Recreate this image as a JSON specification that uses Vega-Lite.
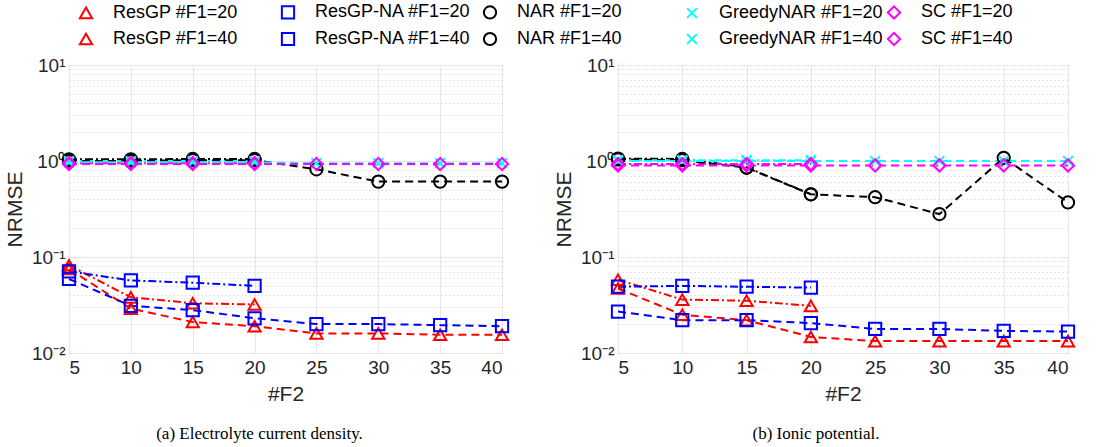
{
  "$schema": "https://vega.github.io/schema/vega-lite/v6.json",
  "background": "white",
  "padding": {"left": 4, "top": 3, "right": 2, "bottom": 2},
  "config": {
    "font": "Liberation Sans",
    "view": {"stroke": "#808080", "strokeWidth": 1},
    "axis": {"labelFont": "Liberation Sans", "titleFont": "Liberation Sans", "labelColor": "#262626", "titleColor": "#262626", "titleFontWeight": "normal", "domain": false, "ticks": false}
  },
  "datasets": {
    "rows": [
      {"p": "a", "s": "ResGP #F1=20", "x": 5, "y": 0.082},
      {"p": "a", "s": "ResGP #F1=20", "x": 10, "y": 0.038},
      {"p": "a", "s": "ResGP #F1=20", "x": 15, "y": 0.033},
      {"p": "a", "s": "ResGP #F1=20", "x": 20, "y": 0.032},
      {"p": "a", "s": "ResGP #F1=40", "x": 5, "y": 0.075},
      {"p": "a", "s": "ResGP #F1=40", "x": 10, "y": 0.029},
      {"p": "a", "s": "ResGP #F1=40", "x": 15, "y": 0.021},
      {"p": "a", "s": "ResGP #F1=40", "x": 20, "y": 0.019},
      {"p": "a", "s": "ResGP #F1=40", "x": 25, "y": 0.016},
      {"p": "a", "s": "ResGP #F1=40", "x": 30, "y": 0.016},
      {"p": "a", "s": "ResGP #F1=40", "x": 35, "y": 0.0155},
      {"p": "a", "s": "ResGP #F1=40", "x": 40, "y": 0.0155},
      {"p": "a", "s": "ResGP-NA #F1=20", "x": 5, "y": 0.071},
      {"p": "a", "s": "ResGP-NA #F1=20", "x": 10, "y": 0.057},
      {"p": "a", "s": "ResGP-NA #F1=20", "x": 15, "y": 0.054},
      {"p": "a", "s": "ResGP-NA #F1=20", "x": 20, "y": 0.05},
      {"p": "a", "s": "ResGP-NA #F1=40", "x": 5, "y": 0.059},
      {"p": "a", "s": "ResGP-NA #F1=40", "x": 10, "y": 0.031},
      {"p": "a", "s": "ResGP-NA #F1=40", "x": 15, "y": 0.028},
      {"p": "a", "s": "ResGP-NA #F1=40", "x": 20, "y": 0.023},
      {"p": "a", "s": "ResGP-NA #F1=40", "x": 25, "y": 0.02},
      {"p": "a", "s": "ResGP-NA #F1=40", "x": 30, "y": 0.02},
      {"p": "a", "s": "ResGP-NA #F1=40", "x": 35, "y": 0.0195},
      {"p": "a", "s": "ResGP-NA #F1=40", "x": 40, "y": 0.019},
      {"p": "a", "s": "NAR #F1=20", "x": 5, "y": 1.04},
      {"p": "a", "s": "NAR #F1=20", "x": 10, "y": 1.04},
      {"p": "a", "s": "NAR #F1=20", "x": 15, "y": 1.05},
      {"p": "a", "s": "NAR #F1=20", "x": 20, "y": 1.05},
      {"p": "a", "s": "NAR #F1=40", "x": 5, "y": 1.0},
      {"p": "a", "s": "NAR #F1=40", "x": 10, "y": 1.0},
      {"p": "a", "s": "NAR #F1=40", "x": 15, "y": 1.02},
      {"p": "a", "s": "NAR #F1=40", "x": 20, "y": 1.02},
      {"p": "a", "s": "NAR #F1=40", "x": 25, "y": 0.82},
      {"p": "a", "s": "NAR #F1=40", "x": 30, "y": 0.61},
      {"p": "a", "s": "NAR #F1=40", "x": 35, "y": 0.61},
      {"p": "a", "s": "NAR #F1=40", "x": 40, "y": 0.61},
      {"p": "a", "s": "GreedyNAR #F1=20", "x": 5, "y": 1.0},
      {"p": "a", "s": "GreedyNAR #F1=20", "x": 10, "y": 1.0},
      {"p": "a", "s": "GreedyNAR #F1=20", "x": 15, "y": 1.0},
      {"p": "a", "s": "GreedyNAR #F1=20", "x": 20, "y": 1.0},
      {"p": "a", "s": "GreedyNAR #F1=40", "x": 5, "y": 0.97},
      {"p": "a", "s": "GreedyNAR #F1=40", "x": 10, "y": 0.97},
      {"p": "a", "s": "GreedyNAR #F1=40", "x": 15, "y": 0.97},
      {"p": "a", "s": "GreedyNAR #F1=40", "x": 20, "y": 0.97},
      {"p": "a", "s": "GreedyNAR #F1=40", "x": 25, "y": 0.95},
      {"p": "a", "s": "GreedyNAR #F1=40", "x": 30, "y": 0.95},
      {"p": "a", "s": "GreedyNAR #F1=40", "x": 35, "y": 0.95},
      {"p": "a", "s": "GreedyNAR #F1=40", "x": 40, "y": 0.95},
      {"p": "a", "s": "SC #F1=20", "x": 5, "y": 0.95},
      {"p": "a", "s": "SC #F1=20", "x": 10, "y": 0.95},
      {"p": "a", "s": "SC #F1=20", "x": 15, "y": 0.95},
      {"p": "a", "s": "SC #F1=20", "x": 20, "y": 0.95},
      {"p": "a", "s": "SC #F1=40", "x": 5, "y": 0.93},
      {"p": "a", "s": "SC #F1=40", "x": 10, "y": 0.93},
      {"p": "a", "s": "SC #F1=40", "x": 15, "y": 0.93},
      {"p": "a", "s": "SC #F1=40", "x": 20, "y": 0.93},
      {"p": "a", "s": "SC #F1=40", "x": 25, "y": 0.93},
      {"p": "a", "s": "SC #F1=40", "x": 30, "y": 0.93},
      {"p": "a", "s": "SC #F1=40", "x": 35, "y": 0.93},
      {"p": "a", "s": "SC #F1=40", "x": 40, "y": 0.93},

      {"p": "b", "s": "ResGP #F1=20", "x": 5, "y": 0.058},
      {"p": "b", "s": "ResGP #F1=20", "x": 10, "y": 0.036},
      {"p": "b", "s": "ResGP #F1=20", "x": 15, "y": 0.035},
      {"p": "b", "s": "ResGP #F1=20", "x": 20, "y": 0.031},
      {"p": "b", "s": "ResGP #F1=40", "x": 5, "y": 0.047},
      {"p": "b", "s": "ResGP #F1=40", "x": 10, "y": 0.025},
      {"p": "b", "s": "ResGP #F1=40", "x": 15, "y": 0.022},
      {"p": "b", "s": "ResGP #F1=40", "x": 20, "y": 0.0147},
      {"p": "b", "s": "ResGP #F1=40", "x": 25, "y": 0.0133},
      {"p": "b", "s": "ResGP #F1=40", "x": 30, "y": 0.0133},
      {"p": "b", "s": "ResGP #F1=40", "x": 35, "y": 0.0133},
      {"p": "b", "s": "ResGP #F1=40", "x": 40, "y": 0.0133},
      {"p": "b", "s": "ResGP-NA #F1=20", "x": 5, "y": 0.049},
      {"p": "b", "s": "ResGP-NA #F1=20", "x": 10, "y": 0.05},
      {"p": "b", "s": "ResGP-NA #F1=20", "x": 15, "y": 0.049},
      {"p": "b", "s": "ResGP-NA #F1=20", "x": 20, "y": 0.048},
      {"p": "b", "s": "ResGP-NA #F1=40", "x": 5, "y": 0.027},
      {"p": "b", "s": "ResGP-NA #F1=40", "x": 10, "y": 0.022},
      {"p": "b", "s": "ResGP-NA #F1=40", "x": 15, "y": 0.022},
      {"p": "b", "s": "ResGP-NA #F1=40", "x": 20, "y": 0.0205},
      {"p": "b", "s": "ResGP-NA #F1=40", "x": 25, "y": 0.0178},
      {"p": "b", "s": "ResGP-NA #F1=40", "x": 30, "y": 0.0178},
      {"p": "b", "s": "ResGP-NA #F1=40", "x": 35, "y": 0.017},
      {"p": "b", "s": "ResGP-NA #F1=40", "x": 40, "y": 0.0167},
      {"p": "b", "s": "NAR #F1=20", "x": 5, "y": 1.06},
      {"p": "b", "s": "NAR #F1=20", "x": 10, "y": 1.05},
      {"p": "b", "s": "NAR #F1=20", "x": 15, "y": 0.86},
      {"p": "b", "s": "NAR #F1=20", "x": 20, "y": 0.45},
      {"p": "b", "s": "NAR #F1=40", "x": 5, "y": 1.04},
      {"p": "b", "s": "NAR #F1=40", "x": 10, "y": 1.02},
      {"p": "b", "s": "NAR #F1=40", "x": 15, "y": 0.85},
      {"p": "b", "s": "NAR #F1=40", "x": 20, "y": 0.45},
      {"p": "b", "s": "NAR #F1=40", "x": 25, "y": 0.42},
      {"p": "b", "s": "NAR #F1=40", "x": 30, "y": 0.28},
      {"p": "b", "s": "NAR #F1=40", "x": 35, "y": 1.08},
      {"p": "b", "s": "NAR #F1=40", "x": 40, "y": 0.37},
      {"p": "b", "s": "GreedyNAR #F1=20", "x": 5, "y": 1.02},
      {"p": "b", "s": "GreedyNAR #F1=20", "x": 10, "y": 1.02},
      {"p": "b", "s": "GreedyNAR #F1=20", "x": 15, "y": 1.02},
      {"p": "b", "s": "GreedyNAR #F1=20", "x": 20, "y": 1.02},
      {"p": "b", "s": "GreedyNAR #F1=40", "x": 5, "y": 1.0},
      {"p": "b", "s": "GreedyNAR #F1=40", "x": 10, "y": 1.0},
      {"p": "b", "s": "GreedyNAR #F1=40", "x": 15, "y": 1.0},
      {"p": "b", "s": "GreedyNAR #F1=40", "x": 20, "y": 1.0},
      {"p": "b", "s": "GreedyNAR #F1=40", "x": 25, "y": 1.0},
      {"p": "b", "s": "GreedyNAR #F1=40", "x": 30, "y": 1.0},
      {"p": "b", "s": "GreedyNAR #F1=40", "x": 35, "y": 1.0},
      {"p": "b", "s": "GreedyNAR #F1=40", "x": 40, "y": 1.0},
      {"p": "b", "s": "SC #F1=20", "x": 5, "y": 0.93},
      {"p": "b", "s": "SC #F1=20", "x": 10, "y": 0.93},
      {"p": "b", "s": "SC #F1=20", "x": 15, "y": 0.93},
      {"p": "b", "s": "SC #F1=20", "x": 20, "y": 0.93},
      {"p": "b", "s": "SC #F1=40", "x": 5, "y": 0.9},
      {"p": "b", "s": "SC #F1=40", "x": 10, "y": 0.9},
      {"p": "b", "s": "SC #F1=40", "x": 15, "y": 0.9},
      {"p": "b", "s": "SC #F1=40", "x": 20, "y": 0.9},
      {"p": "b", "s": "SC #F1=40", "x": 25, "y": 0.9},
      {"p": "b", "s": "SC #F1=40", "x": 30, "y": 0.9},
      {"p": "b", "s": "SC #F1=40", "x": 35, "y": 0.9},
      {"p": "b", "s": "SC #F1=40", "x": 40, "y": 0.9}
    ]
  },
  "resolve": {"legend": {"color": "shared", "shape": "shared"}},
  "spacing": 40,
  "hconcat": [
    {
      "width": 433,
      "height": 288,
      "data": {"name": "rows"},
      "transform": [{"filter": "datum.p == 'a'"}],
      "title": {"text": "(a) Electrolyte current density.", "orient": "bottom", "font": "Liberation Serif", "fontSize": 17, "fontWeight": "normal", "color": "#000000", "offset": 22, "anchor": "middle", "dx": -26},
      "encoding": {
        "x": {"field": "x", "type": "quantitative", "scale": {"domain": [5, 40], "nice": false, "zero": false},
              "axis": {"values": [5, 10, 15, 20, 25, 30, 35, 40], "title": "#F2", "titleFontSize": 21, "labelFontSize": 19, "labelPadding": 5, "titlePadding": 6, "gridColor": "#e6e6e6", "gridWidth": 1}},
        "y": {"field": "y", "type": "quantitative", "scale": {"type": "log", "domain": [0.01, 10], "nice": false},
              "axis": {"values": [0.01,0.02,0.03,0.04,0.05,0.06,0.07,0.08,0.09,0.1,0.2,0.3,0.4,0.5,0.6,0.7,0.8,0.9,1,2,3,4,5,6,7,8,9,10],
                       "labelExpr": "abs(datum.value-10)<1e-9 ? '10¹' : abs(datum.value-1)<1e-9 ? '10⁰' : abs(datum.value-0.1)<1e-9 ? '10⁻¹' : abs(datum.value-0.01)<1e-9 ? '10⁻²' : ''",
                       "title": "NRMSE", "titleFontSize": 21, "labelFontSize": 19, "labelPadding": 4, "titlePadding": 6,
                       "gridDash": {"condition": {"test": "abs(log(datum.value)/LN10 - round(log(datum.value)/LN10)) < 1e-6", "value": []}, "value": [1, 3]},
                       "gridColor": {"condition": {"test": "abs(log(datum.value)/LN10 - round(log(datum.value)/LN10)) < 1e-6", "value": "#e6e6e6"}, "value": "#c8c8c8"}}},
        "color": {"field": "s", "type": "nominal", "title": null,
                  "scale": {"domain": ["ResGP #F1=20", "ResGP-NA #F1=20", "NAR #F1=20", "GreedyNAR #F1=20", "SC #F1=20", "ResGP #F1=40", "ResGP-NA #F1=40", "NAR #F1=40", "GreedyNAR #F1=40", "SC #F1=40"],
                            "range": ["#ff0000", "#0000ff", "#000000", "#00ffff", "#ff00ff", "#ff0000", "#0000ff", "#000000", "#00ffff", "#ff00ff"]},
                  "legend": {"orient": "none", "legendX": 8, "legendY": -62, "columns": 5, "direction": "horizontal", "gridAlign": "all", "labelFontSize": 18, "labelColor": "#000000", "labelFont": "Liberation Sans", "symbolSize": 150, "symbolStrokeWidth": 2, "rowPadding": 5, "columnPadding": 0, "labelOffset": 18, "symbolOffset": 0, "labelLimit": 300}}
      },
      "layer": [
        {"transform": [{"filter": "indexof(datum.s, '=20') >= 0"}],
         "mark": {"type": "line", "strokeWidth": 2, "strokeDash": [8, 3, 2, 3]}},
        {"transform": [{"filter": "indexof(datum.s, '=40') >= 0"}],
         "mark": {"type": "line", "strokeWidth": 2, "strokeDash": [8, 5]}},
        {"mark": {"type": "point", "filled": false, "strokeWidth": 2, "size": 150, "opacity": 1},
         "encoding": {"shape": {"field": "s", "type": "nominal", "title": null,
                                "scale": {"domain": ["ResGP #F1=20", "ResGP-NA #F1=20", "NAR #F1=20", "GreedyNAR #F1=20", "SC #F1=20", "ResGP #F1=40", "ResGP-NA #F1=40", "NAR #F1=40", "GreedyNAR #F1=40", "SC #F1=40"],
                                          "range": ["triangle-up", "square", "circle", "M-0.8,-0.8L0.8,0.8M-0.8,0.8L0.8,-0.8", "diamond", "triangle-up", "square", "circle", "M-0.8,-0.8L0.8,0.8M-0.8,0.8L0.8,-0.8", "diamond"]}}}}
      ]
    },
    {
      "width": 450,
      "height": 288,
      "data": {"name": "rows"},
      "transform": [{"filter": "datum.p == 'b'"}],
      "title": {"text": "(b) Ionic potential.", "orient": "bottom", "font": "Liberation Serif", "fontSize": 17, "fontWeight": "normal", "color": "#000000", "offset": 22, "anchor": "middle", "dx": -27},
      "encoding": {
        "x": {"field": "x", "type": "quantitative", "scale": {"domain": [5, 40], "nice": false, "zero": false},
              "axis": {"values": [5, 10, 15, 20, 25, 30, 35, 40], "title": "#F2", "titleFontSize": 21, "labelFontSize": 19, "labelPadding": 5, "titlePadding": 6, "gridColor": "#e6e6e6", "gridWidth": 1}},
        "y": {"field": "y", "type": "quantitative", "scale": {"type": "log", "domain": [0.01, 10], "nice": false},
              "axis": {"values": [0.01,0.02,0.03,0.04,0.05,0.06,0.07,0.08,0.09,0.1,0.2,0.3,0.4,0.5,0.6,0.7,0.8,0.9,1,2,3,4,5,6,7,8,9,10],
                       "labelExpr": "abs(datum.value-10)<1e-9 ? '10¹' : abs(datum.value-1)<1e-9 ? '10⁰' : abs(datum.value-0.1)<1e-9 ? '10⁻¹' : abs(datum.value-0.01)<1e-9 ? '10⁻²' : ''",
                       "title": "NRMSE", "titleFontSize": 21, "labelFontSize": 19, "labelPadding": 4, "titlePadding": 6,
                       "gridDash": {"condition": {"test": "abs(log(datum.value)/LN10 - round(log(datum.value)/LN10)) < 1e-6", "value": []}, "value": [1, 3]},
                       "gridColor": {"condition": {"test": "abs(log(datum.value)/LN10 - round(log(datum.value)/LN10)) < 1e-6", "value": "#e6e6e6"}, "value": "#c8c8c8"}}},
        "color": {"field": "s", "type": "nominal", "title": null,
                  "scale": {"domain": ["ResGP #F1=20", "ResGP-NA #F1=20", "NAR #F1=20", "GreedyNAR #F1=20", "SC #F1=20", "ResGP #F1=40", "ResGP-NA #F1=40", "NAR #F1=40", "GreedyNAR #F1=40", "SC #F1=40"],
                            "range": ["#ff0000", "#0000ff", "#000000", "#00ffff", "#ff00ff", "#ff0000", "#0000ff", "#000000", "#00ffff", "#ff00ff"]},
                  "legend": null}
      },
      "layer": [
        {"transform": [{"filter": "indexof(datum.s, '=20') >= 0"}],
         "mark": {"type": "line", "strokeWidth": 2, "strokeDash": [8, 3, 2, 3]}},
        {"transform": [{"filter": "indexof(datum.s, '=40') >= 0"}],
         "mark": {"type": "line", "strokeWidth": 2, "strokeDash": [8, 5]}},
        {"mark": {"type": "point", "filled": false, "strokeWidth": 2, "size": 150, "opacity": 1},
         "encoding": {"shape": {"field": "s", "type": "nominal", "legend": null,
                                "scale": {"domain": ["ResGP #F1=20", "ResGP-NA #F1=20", "NAR #F1=20", "GreedyNAR #F1=20", "SC #F1=20", "ResGP #F1=40", "ResGP-NA #F1=40", "NAR #F1=40", "GreedyNAR #F1=40", "SC #F1=40"],
                                          "range": ["triangle-up", "square", "circle", "M-0.8,-0.8L0.8,0.8M-0.8,0.8L0.8,-0.8", "diamond", "triangle-up", "square", "circle", "M-0.8,-0.8L0.8,0.8M-0.8,0.8L0.8,-0.8", "diamond"]}}}}
      ]
    }
  ]
}
